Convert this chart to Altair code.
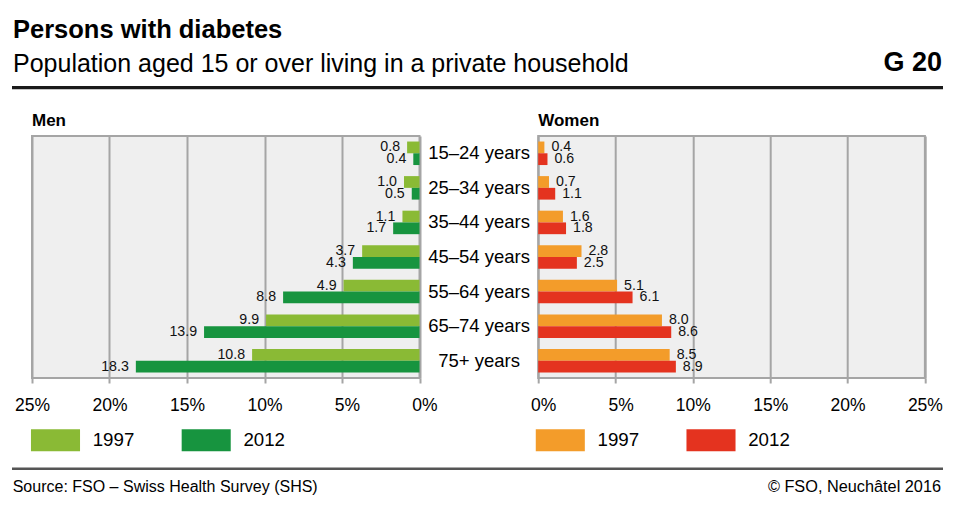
import altair as alt
import pandas as pd

# ---------------- data ----------------
ages = ["15–24 years", "25–34 years", "35–44 years", "45–54 years",
        "55–64 years", "65–74 years", "75+ years"]
years = ["1997", "2012"]
men_1997 = [0.8, 1.0, 1.1, 3.7, 4.9, 9.9, 10.8]
men_2012 = [0.4, 0.5, 1.7, 4.3, 8.8, 13.9, 18.3]
women_1997 = [0.4, 0.7, 1.6, 2.8, 5.1, 8.0, 8.5]
women_2012 = [0.6, 1.1, 1.8, 2.5, 6.1, 8.6, 8.9]
tick_values = [0, 5, 10, 15, 20, 25]

title_text = "Persons with diabetes"
subtitle_text = "Population aged 15 or over living in a private household"
code_text = "G 20"
source_text = "Source: FSO – Swiss Health Survey (SHS)"
copy_text = "© FSO, Neuchâtel 2016"


def long_df(v97, v12):
    rows = []
    for a, p, q in zip(ages, v97, v12):
        rows.append({"age": a, "year": "1997", "value": p})
        rows.append({"age": a, "year": "2012", "value": q})
    return pd.DataFrame(rows)


men_df = long_df(men_1997, men_2012)
women_df = long_df(women_1997, women_2012)

# ---------------- style ----------------
FN = "Liberation Sans, Arial"
FB = "Liberation Sans, Arial"
GRID = "#a5a5a5"
LG, DG = "#8aba35", "#17943f"
OR, RD = "#f39c2a", "#e4331f"
W_M, W_W, H, GAP = 387.5, 386.7, 242, 118.2

yscale = alt.Scale(paddingInner=0.32, paddingOuter=0.16)


def x_axis():
    return alt.Axis(values=tick_values, title=None, orient="bottom", grid=True,
                    gridColor=GRID, gridWidth=2, domain=False, ticks=True,
                    tickColor=GRID, tickWidth=2, tickSize=5,
                    labelExpr="datum.value + '%'", labelFont=FN, labelFontSize=17.5,
                    labelColor="#000", labelPadding=13.5, labelFlush=False,
                    labelOverlap=False,
                    labelOffset={"condition": {"test": "datum.value < 10", "value": 5},
                                 "value": 0})


def legend(lx):
    return alt.Legend(orient="none", legendX=lx, legendY=293.3, direction="horizontal",
                      title=None, symbolType="M-2.23,-1H2.23V1H-2.23Z", symbolSize=484,
                      symbolStrokeWidth=0, symbolOpacity=1, labelFont=FN,
                      labelFontSize=18.7, labelColor="#000", labelOffset=26.2,
                      columnPadding=46.7, padding=0, labelLimit=200)


def one(text, x, y, size, font, weight="normal", align="left", color="#000"):
    return alt.Chart(pd.DataFrame({"t": [text]})).mark_text(
        align=align, baseline="alphabetic", font=font, fontSize=size,
        fontWeight=weight, color=color).encode(
        x=alt.value(x), y=alt.value(y), text="t:N")


def band(x1, x2, y1, y2, color):
    return alt.Chart(pd.DataFrame({"k": [0]})).mark_rect(color=color).encode(
        x=alt.value(x1), x2=alt.value(x2), y=alt.value(y1), y2=alt.value(y2))


# ---------------- men ----------------
men_x = alt.X("value:Q", scale=alt.Scale(domain=[0, 25], reverse=True, nice=False),
              axis=x_axis())
men_y = alt.Y("age:N", sort=ages, scale=yscale,
              axis=alt.Axis(orient="right", title=None, ticks=False, tickSize=0,
                            domain=False, grid=False, labelAlign="center",
                            labelBaseline="middle", labelPadding=GAP / 2,
                            labelFont=FN, labelFontSize=18.5, labelColor="#000",
                            labelLimit=300))

men_bars = alt.Chart(men_df).mark_bar().encode(
    x=men_x, y=men_y,
    yOffset=alt.YOffset("year:N", sort=years),
    color=alt.Color("year:N", scale=alt.Scale(domain=years, range=[LG, DG]),
                    legend=legend(12.5)),
)
men_text = alt.Chart(men_df).mark_text(
    align="right", baseline="middle", dx=-7, font=FN, fontSize=14.2, color="#111"
).encode(
    x="value:Q", y=alt.Y("age:N", sort=ages),
    yOffset=alt.YOffset("year:N", sort=years),
    text=alt.Text("value:Q", format=".1f"),
)

anchor = alt.Chart(pd.DataFrame({"k": [0]})).mark_rule(
    color="white", strokeWidth=1).encode(
    x=alt.value(-22.5), x2=alt.value(900), y=alt.value(-126.5))

men = alt.layer(
    anchor,
    one(title_text, -19, -98.3, 25.5, FB, "bold"),
    one(subtitle_text, -19, -64.3, 25, FN),
    one(code_text, 910, -65, 27, FB, "bold", "right"),
    band(-20, 911, -50, -46.7, "#1a1a1a"),
    one("Men", 0, -10, 17, FB, "bold"),
    men_bars, men_text,
    band(-20, 911, 331.5, 334, "#555555"),
    one(source_text, -19.3, 355.7, 16, FN),
    one(copy_text, 909, 355.7, 16.3, FN, "normal", "right"),
).properties(width=W_M, height=H)

# ---------------- women ----------------
w_x = alt.X("value:Q", scale=alt.Scale(domain=[0, 25], nice=False), axis=x_axis())
w_y = alt.Y("age:N", sort=ages, scale=yscale, axis=None)

w_bars = alt.Chart(women_df).mark_bar().encode(
    x=w_x, y=w_y,
    yOffset=alt.YOffset("year:N", sort=years),
    color=alt.Color("year:N", scale=alt.Scale(domain=years, range=[OR, RD]),
                    legend=legend(11.1)),
)
w_text = alt.Chart(women_df).mark_text(
    align="left", baseline="middle", dx=7, font=FN, fontSize=14.2, color="#111"
).encode(
    x="value:Q", y=alt.Y("age:N", sort=ages),
    yOffset=alt.YOffset("year:N", sort=years),
    text=alt.Text("value:Q", format=".1f"),
)

women = alt.layer(
    one("Women", 0, -10, 17, FB, "bold"),
    w_bars, w_text,
).properties(width=W_W, height=H)

chart = alt.hconcat(men, women, spacing=GAP, bounds="flush", padding=0).resolve_scale(
    x="independent", y="independent", color="independent"
).configure_view(fill="#efefef", stroke=GRID, strokeWidth=2)

chart.save("out.html", embed_options={"renderer": "svg", "actions": False})
